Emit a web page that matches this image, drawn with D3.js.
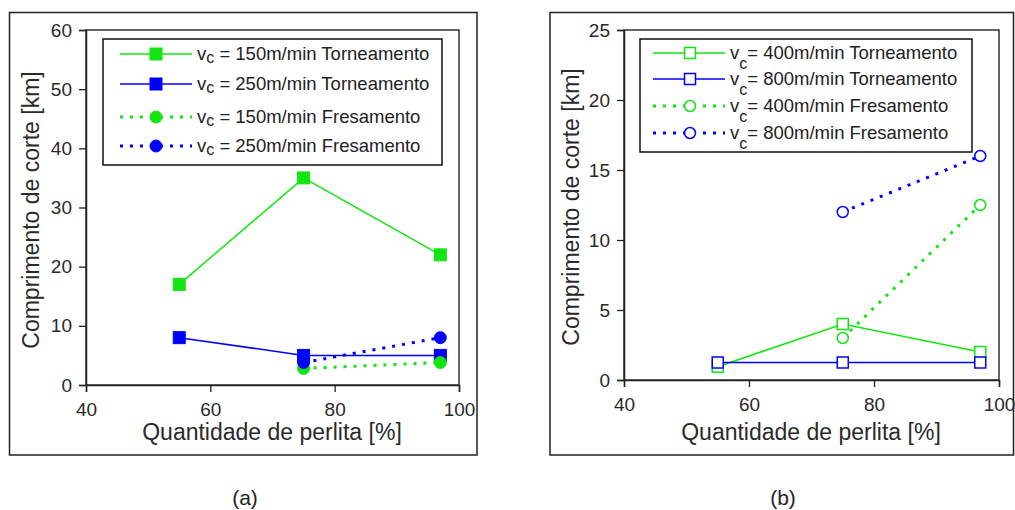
<!DOCTYPE html>
<html><head><meta charset="utf-8">
<script src="https://cdn.jsdelivr.net/npm/d3@7"></script>
<style>
html,body{margin:0;padding:0;background:#fff;}
svg{display:block;font-family:"Liberation Sans",Arial,sans-serif;}
</style></head>
<body>
<svg id="chart" width="1015" height="510"></svg>
<script>
// ---- data ----
const perlita = [55, 75, 97];
const perlitaFres = [75, 97];
const xTicks = [40, 60, 80, 100];

// Panel (a)
const aLabels = ["150m/min Torneamento", "250m/min Torneamento", "150m/min Fresamento", "250m/min Fresamento"];
const aTorn150 = [17, 35, 22];
const aTorn250 = [8, 5, 5];
const aFres150 = [2.8, 3.8];
const aFres250 = [3.8, 8];
const aYTicks = [0, 10, 20, 30, 40, 50, 60];

// Panel (b)
const bLabels = ["400m/min Torneamento", "800m/min Torneamento", "400m/min Fresamento", "800m/min Fresamento"];
const bTorn400 = [0.95, 4, 2];
const bTorn800 = [1.25, 1.25, 1.25];
const bFres400 = [3, 12.5];
const bFres800 = [12, 16];
const bYTicks = [0, 5, 10, 15, 20, 25];

const xTitle = "Quantidade de perlita [%]";
const yTitle = "Comprimento de corte [km]";
const captions = ["(a)", "(b)"];

// ---- drawing ----
const svg = d3.select("#chart");
svg.append("rect").attr("width", 1015).attr("height", 510).attr("fill", "#fff");

const GREEN = "#11e611", BLUE = "#0000ff";

function panel(cfg) {
  const g = svg.append("g");
  g.append("rect").attr("x", cfg.frame[0]).attr("y", cfg.frame[1])
    .attr("width", cfg.frame[2] - cfg.frame[0]).attr("height", cfg.frame[3] - cfg.frame[1])
    .attr("fill", "none").attr("stroke", "#222").attr("stroke-width", 1.5);

  const x = d3.scaleLinear().domain([40, 100]).range([cfg.plot[0], cfg.plot[2]]);
  const y = d3.scaleLinear().domain(cfg.yDomain).range([cfg.plot[3], cfg.plot[1]]);

  g.append("rect").attr("x", cfg.plot[0]).attr("y", cfg.plot[1])
    .attr("width", cfg.plot[2] - cfg.plot[0]).attr("height", cfg.plot[3] - cfg.plot[1])
    .attr("fill", "none").attr("stroke", "#333").attr("stroke-width", 1.5);

  const xAxis = g.append("g").attr("transform", `translate(0,${cfg.plot[3]})`)
    .call(d3.axisBottom(x).tickValues(xTicks).tickSize(7).tickPadding(11).tickFormat(d3.format("d")));
  const yAxis = g.append("g").attr("transform", `translate(${cfg.plot[0]},0)`)
    .call(d3.axisLeft(y).tickValues(cfg.yTicks).tickSize(7).tickPadding(7).tickFormat(d3.format("d")));
  [xAxis, yAxis].forEach(ax => {
    ax.select(".domain").attr("stroke", "#222").attr("stroke-width", 1.5);
    ax.selectAll(".tick line").attr("stroke", "#222").attr("stroke-width", 1.3);
    ax.selectAll(".tick text").attr("fill", "#2a2a2a").style("font-size", "19px")
      .style("font-family", "Liberation Sans, Arial, sans-serif");
  });

  g.append("text").attr("x", cfg.xTitlePos[0]).attr("y", cfg.xTitlePos[1])
    .attr("text-anchor", "middle").attr("fill", "#2a2a2a").style("font-size", "23px").text(xTitle);
  g.append("text").attr("transform", `translate(${cfg.yTitlePos[0]},${cfg.yTitlePos[1]}) rotate(-90)`)
    .attr("text-anchor", "middle").attr("dominant-baseline", "central").attr("fill", "#2a2a2a")
    .style("font-size", "23px").text(yTitle);

  const line = d3.line().defined(d => d[1] != null).x(d => x(d[0])).y(d => y(d[1]));
  cfg.series.forEach(s => {
    const pts = s.xs.map((v, i) => [v, s.ys[i]]);
    g.append("path").datum(pts).attr("d", line).attr("fill", "none")
      .attr("stroke", s.color).attr("stroke-width", s.dotted ? 3 : 1.5)
      .attr("stroke-dasharray", s.dotted ? "3,7" : null);
  });
  cfg.series.forEach(s => {
    const pts = s.xs.map((v, i) => [v, s.ys[i]]);
    drawMarkers(g, pts.map(p => [x(p[0]), y(p[1])]), s, cfg.open);
  });

  const L = cfg.legend;
  g.append("rect").attr("x", L.box[0]).attr("y", L.box[1])
    .attr("width", L.box[2] - L.box[0]).attr("height", L.box[3] - L.box[1])
    .attr("fill", "#fff").attr("stroke", "#111").attr("stroke-width", 1.5);
  cfg.series.forEach((s, i) => {
    const ry = L.rows[i];
    g.append("line").attr("x1", L.lx[0]).attr("x2", L.lx[1]).attr("y1", ry).attr("y2", ry)
      .attr("stroke", s.color).attr("stroke-width", s.dotted ? 3 : 1.5)
      .attr("stroke-dasharray", s.dotted ? "3,7" : null);
    drawMarkers(g, [[L.mx, ry]], s, cfg.open);
    const t = g.append("text").attr("x", L.tx).attr("y", ry + 6).attr("fill", "#222")
      .style("font-size", "18.5px");
    t.append("tspan").text("v");
    t.append("tspan").attr("dy", L.subDy).style("font-size", "16px").text("c");
    t.append("tspan").attr("dy", -L.subDy).text(L.sep + s.label);
  });

  g.append("text").attr("x", cfg.caption[0]).attr("y", cfg.caption[1]).attr("text-anchor", "middle")
    .attr("fill", "#222").style("font-size", "21px").text(cfg.captionText);
}

function drawMarkers(g, pts, s, open) {
  pts.forEach(p => {
    if (s.shape === "square") {
      const sz = open ? 11 : 12;
      g.append("rect").attr("x", p[0] - sz / 2).attr("y", p[1] - sz / 2).attr("width", sz).attr("height", sz)
        .attr("fill", open ? "#fff" : s.color).attr("stroke", s.color).attr("stroke-width", open ? 1.5 : 1);
    } else {
      g.append("circle").attr("cx", p[0]).attr("cy", p[1]).attr("r", open ? 5.5 : 6)
        .attr("fill", open ? "#fff" : s.color).attr("stroke", s.color).attr("stroke-width", open ? 1.5 : 1);
    }
  });
}

panel({
  frame: [9.5, 12.5, 477, 455],
  plot: [86, 30, 459, 385],
  yDomain: [0, 60], yTicks: aYTicks,
  open: false,
  xTitlePos: [272, 440], yTitlePos: [31, 210],
  series: [
    {label: aLabels[0], xs: perlita, ys: aTorn150, color: GREEN, shape: "square", dotted: false},
    {label: aLabels[1], xs: perlita, ys: aTorn250, color: BLUE, shape: "square", dotted: false},
    {label: aLabels[2], xs: perlitaFres, ys: aFres150, color: GREEN, shape: "circle", dotted: true},
    {label: aLabels[3], xs: perlitaFres, ys: aFres250, color: BLUE, shape: "circle", dotted: true}
  ],
  legend: {box: [103, 39, 442, 165], rows: [54, 84, 117, 146], lx: [120, 192], mx: 156, tx: 197, subDy: 3, sep: " = "},
  caption: [245, 505], captionText: captions[0]
});

panel({
  frame: [550, 12.5, 1013.5, 455],
  plot: [624, 30, 999, 380],
  yDomain: [0, 25], yTicks: bYTicks,
  open: true,
  xTitlePos: [811, 440], yTitlePos: [571, 207],
  series: [
    {label: bLabels[0], xs: perlita, ys: bTorn400, color: GREEN, shape: "square", dotted: false},
    {label: bLabels[1], xs: perlita, ys: bTorn800, color: BLUE, shape: "square", dotted: false},
    {label: bLabels[2], xs: perlitaFres, ys: bFres400, color: GREEN, shape: "circle", dotted: true},
    {label: bLabels[3], xs: perlitaFres, ys: bFres800, color: BLUE, shape: "circle", dotted: true}
  ],
  legend: {box: [640, 39, 972, 152], rows: [53, 79, 106, 133], lx: [653, 725], mx: 690, tx: 730, subDy: 10, sep: "= "},
  caption: [783, 505], captionText: captions[1]
});
</script>
</body></html>
